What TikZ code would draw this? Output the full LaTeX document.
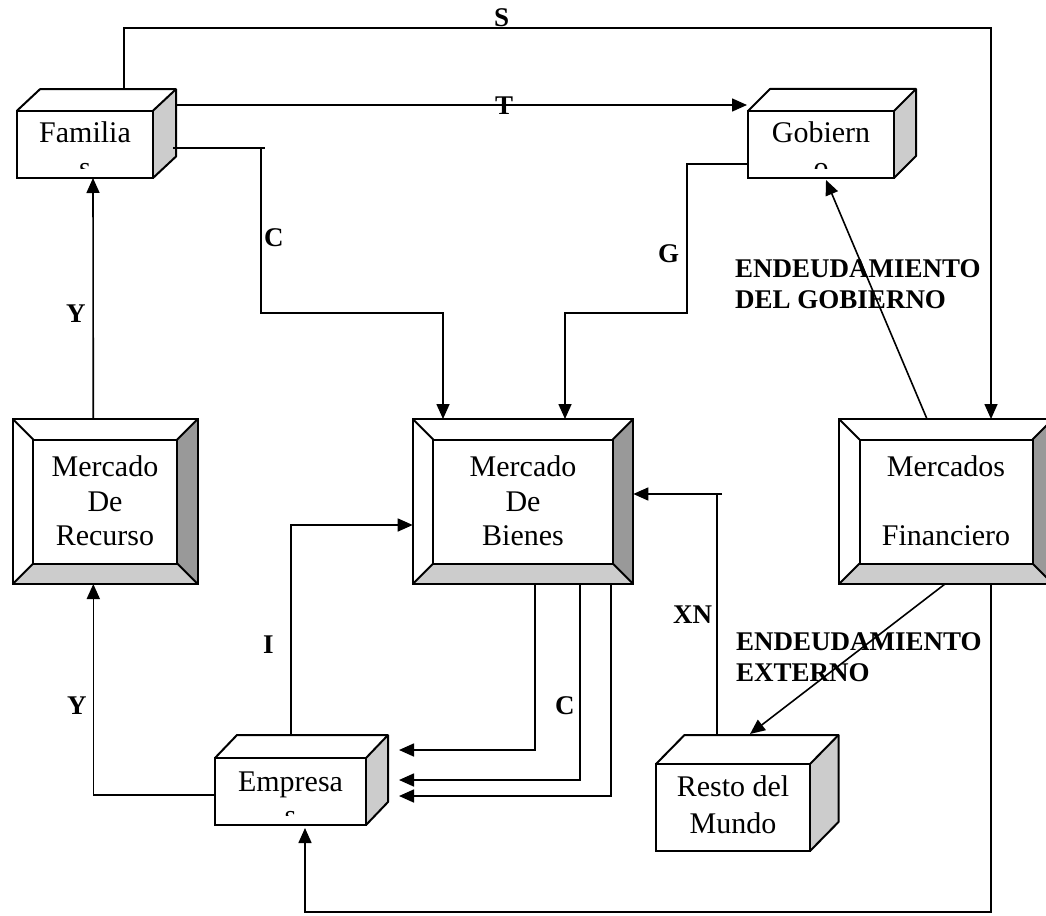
\documentclass[tikz,border=0pt]{standalone}
\usepackage{fontspec}
\setmainfont{Liberation Serif}
\usetikzlibrary{arrows.meta,fit}
\definecolor{sidegray}{HTML}{CCCCCC}
\definecolor{darkbevel}{HTML}{999999}
\tikzset{
  boxline/.style={line width=2pt},
  flow/.style={line width=1.6pt},
  arr/.style={flow, -{Triangle[length=15pt,width=13pt]}},
  boxtext/.style={font=\fontsize{30}{34.5}\selectfont, inner sep=0pt, anchor=base},
  lbl/.style={font=\fontsize{27}{31}\selectfont\bfseries, inner sep=0pt, anchor=base west},
}
\newcommand{\cubebox}[7]{%
  \fill[white] (#2,#3) -- (#2+#6,#3-#7) -- (#4+#6,#3-#7) -- (#4,#3) -- cycle;
  \fill[sidegray] (#4,#3) -- (#4+#6,#3-#7) -- (#4+#6,#5-#7) -- (#4,#5) -- cycle;
  \draw[boxline, line join=round] (#2,#3) -- (#2+#6,#3-#7) -- (#4+#6,#3-#7) -- (#4+#6,#5-#7) -- (#4,#5);
  \draw[boxline] (#4,#3) -- (#4+#6,#3-#7);
  \coordinate (#1-nw) at (#2,#3);
  \coordinate (#1-se) at (#4,#5);
  \node[boxline, draw, fill=white, inner sep=0pt, outer sep=0pt, fit=(#1-nw)(#1-se)] (#1) {};
}
\newcommand{\bevelbox}[6]{%
  \coordinate (#1-nw) at (#2,#3);
  \coordinate (#1-se) at (#4,#5);
  \node[fill=white, inner sep=0pt, outer sep=0pt, fit=(#1-nw)(#1-se)] (#1) {};
  \fill[darkbevel] (#4,#3) -- (#4-#6,#3+#6) -- (#4-#6,#5-#6) -- (#4,#5) -- cycle;
  \fill[sidegray] (#2,#5) -- (#2+#6,#5-#6) -- (#4-#6,#5-#6) -- (#4,#5) -- cycle;
  \draw[boxline] (#2+#6,#3+#6) rectangle (#4-#6,#5-#6);
  \draw[boxline] (#2,#3) -- (#2+#6,#3+#6) (#4,#3) -- (#4-#6,#3+#6)
                 (#2,#5) -- (#2+#6,#5-#6) (#4,#5) -- (#4-#6,#5-#6);
  \draw[boxline] (#1.north west) rectangle (#1.south east);
}
\begin{document}
\begin{tikzpicture}[x=1pt, y=-1pt]
\fill[white] (0,0) rectangle (1046,915);
\useasboundingbox (0,0) rectangle (1046,915);

% ---------- boxes ----------
\cubebox{fam}{17}{110.7}{153}{178}{23}{21.5}
\cubebox{gob}{748}{111}{894}{178}{22}{22}
\cubebox{emp}{215}{758}{366}{825}{22}{23}
\cubebox{rest}{656}{764}{810}{851}{28.5}{29}
\bevelbox{rec}{12.7}{419}{197.7}{584}{20.5}
\bevelbox{bie}{412.7}{419}{633.3}{584}{20.5}
\bevelbox{fin}{839}{419}{1053}{584}{20.5}

% ---------- box texts ----------
\begin{scope}
  \clip (17,110.7) rectangle (153,168);
  \node[boxtext] (famt1) at (85,142.7) {Familia};
  \node[boxtext] (famt2) at (85,177.2) {s};
\end{scope}
\begin{scope}
  \clip (748,111) rectangle (894,168);
  \node[boxtext] (gobt1) at (821,142.7) {Gobiern};
  \node[boxtext] (gobt2) at (821,177.2) {o};
\end{scope}
\begin{scope}
  \clip (215,758) rectangle (366,815);
  \node[boxtext] (empt1) at (290.5,791) {Empresa};
  \node[boxtext] (empt2) at (290.5,825.5) {s};
\end{scope}
\node[boxtext] (restt1) at (733,796.7) {Resto del};
\node[boxtext] (restt2) at (733,833) {Mundo};
\node[boxtext] (rect1) at (105,476.7) {Mercado};
\node[boxtext] (rect2) at (105,511) {De};
\node[boxtext] (rect3) at (105,545.7) {Recurso};
\node[boxtext] (biet1) at (523,476.7) {Mercado};
\node[boxtext] (biet2) at (523,511) {De};
\node[boxtext] (biet3) at (523,545.7) {Bienes};
\node[boxtext] (fint1) at (946,476.7) {Mercados};
\node[boxtext] (fint2) at (946,545.7) {Financiero};

% ---------- connection points ----------
\coordinate (famS) at (124,89);
\coordinate (famT) at (176,105);
\coordinate (gobT) at (747,105);
\coordinate (famC) at (173,148);
\coordinate (famCend) at (265,148);
\coordinate (famCv) at (261,148);
\coordinate (gobG) at (748,164);
\coordinate (empI) at (291,735);
\coordinate (restXN) at (717,735);
\coordinate (xnTop) at (717,494);
\coordinate (xnStart) at (722,494);
\coordinate (sTop) at (124,28);

% ---------- connectors ----------
% S
\draw[arr] (famS) -- (sTop) -| ([xshift=152pt]fin.north west);
% T
\draw[arr] (famT) -- (gobT);
% C (upper)
\draw[flow] (famC) -- (famCend);
\draw[arr] (famCv) |- (443,313) -- ([xshift=30.3pt]bie.north west);
% G
\draw[arr] (gobG) -- (687,164) |- (565,313) -- ([xshift=152.3pt]bie.north west);
% Y upper
\draw[arr] ([xshift=80.6pt]rec.north west) -- ([xshift=76pt]fam.south west);
% Y lower
\draw[arr] (emp.west |- 0,795) -| ([xshift=80.6pt]rec.south west);
% I
\draw[arr] (empI) |- (bie.west |- 0,525);
% C (lower, three)
\draw[arr] ([xshift=122.3pt]bie.south west) |- (399,750);
\draw[arr] ([xshift=167.3pt]bie.south west) |- (399,780);
\draw[arr] ([xshift=198pt]bie.south west) |- (399,796);
% XN
\draw[flow] (restXN) -- (xnTop);
\draw[arr] (xnStart) -- (bie.east |- 0,494);
% Endeudamiento del gobierno
\draw[arr] ([xshift=88pt]fin.north west) -- ([xshift=78pt,yshift=-2pt]gob.south west);
% Endeudamiento externo
\draw[arr] ([xshift=106pt]fin.south west) -- (750,734);
% financial market to empresas
\draw[arr] ([xshift=152pt]fin.south west) -- (991,912) -| ([xshift=90pt,yshift=-3pt]emp.south west);

% ---------- labels ----------
\node[lbl] (lS) at (494,27) {S};
\node[lbl] (lT) at (495,114) {T};
\node[lbl] (lC1) at (264,246) {C};
\node[lbl] (lG) at (658,262) {G};
\node[lbl] (lEG1) at (735,277) {ENDEUDAMIENTO};
\node[lbl] (lEG2) at (735,308) {DEL GOBIERNO};
\node[lbl] (lY1) at (66,322) {Y};
\node[lbl] (lXN) at (673,623) {XN};
\node[lbl] (lEE1) at (736,650) {ENDEUDAMIENTO};
\node[lbl] (lEE2) at (736,681) {EXTERNO};
\node[lbl] (lI) at (263,653) {I};
\node[lbl] (lY2) at (67,714) {Y};
\node[lbl] (lC2) at (555,714) {C};
\end{tikzpicture}
\end{document}
